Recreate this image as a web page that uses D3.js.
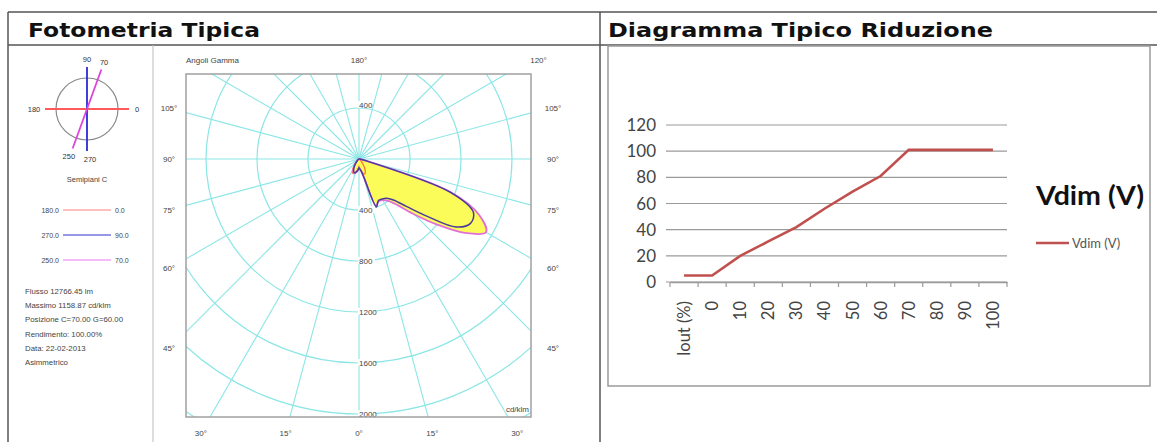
<!DOCTYPE html>
<html>
<head>
<meta charset="utf-8">
<script src="https://cdn.jsdelivr.net/npm/d3@7"></script>
<style>
  body { margin: 0; background: #fff; }
  svg { display: block; }
</style>
</head>
<body>
<div id="chart"></div>
<script>
// photometric data (cd/klm), gamma angles in degrees, 0 = straight down
const gammaAngles = [0, 5, 10, 15, 20, 25, 30, 35, 40, 45, 50, 55, 60, 65, 70, 75, 80, 85, 90]
const c0 = [60, 75, 95, 115, 125, 118, 95, 65, 40, 25, 15, 10, 7, 5, 4, 4, 3, 2, 2]
const c180 = [60, 75, 95, 112, 122, 120, 100, 70, 45, 28, 16, 10, 7, 5, 4, 4, 3, 2, 2]
const c90 = [70, 80, 95, 150, 400, 360, 362, 375, 420, 525, 700, 930, 1010, 990, 760, 80, 20, 8, 4]
const c270 = [70, 85, 100, 110, 112, 100, 80, 55, 35, 22, 14, 9, 6, 5, 4, 3, 3, 2, 2]
const c70 = [70, 80, 95, 150, 390, 365, 372, 400, 475, 615, 800, 1010, 1150, 1040, 770, 80, 20, 8, 4]
const c250 = [70, 85, 100, 115, 118, 108, 88, 62, 40, 25, 15, 10, 7, 5, 4, 3, 3, 2, 2]

const intensityRings = [400, 800, 1200, 1600, 2000, 2400]
const ringLabelsBelow = [400, 800, 1200, 1600, 2000]
const ringLabelsAbove = [400]
const sideGammaLabels = [105, 90, 75, 60, 45]
const bottomGammaLabels = [-30, -15, 0, 15, 30]
const topGammaLabels = [180, 120]

const planeNames = ['180 - 0', '270 - 90', '250 - 70']
const planeLegendLeft = ['180.0', '270.0', '250.0']
const planeLegendRight = ['0.0', '90.0', '70.0']
const planeAngles = [0, 90, 70]
const infoLines = [
  'Flusso 12766.45  lm',
  'Massimo 1158.87  cd/klm',
  'Posizione C=70.00 G=60.00',
  'Rendimento: 100.00%',
  'Data: 22-02-2013',
  'Asimmetrico'
]

// dimming chart
const categories = ['Iout (%)', '0', '10', '20', '30', '40', '50', '60', '70', '80', '90', '100']
const vdim = [5, 5, 20, 31, 42, 56, 69, 81, 101, 101, 101, 101]
const yTicks = [0, 20, 40, 60, 80, 100, 120]

let width = 1157
let height = 442

let svg = d3
  .select('#chart')
  .append('svg')
  .attr('width', width)
  .attr('height', height)

let small = 'Liberation Sans, Arial, sans-serif'

// table lines and headers
let border = '#555'
svg.append('line').attr('x1', 8).attr('x2', width).attr('y1', 12).attr('y2', 12)
  .attr('stroke', border).attr('stroke-width', 1.5)
svg.append('line').attr('x1', 8).attr('x2', width).attr('y1', 45).attr('y2', 45)
  .attr('stroke', border).attr('stroke-width', 1.5)
svg.append('line').attr('x1', 8).attr('x2', 8).attr('y1', 12).attr('y2', height)
  .attr('stroke', border).attr('stroke-width', 1.5)
svg.append('line').attr('x1', 600).attr('x2', 600).attr('y1', 12).attr('y2', height)
  .attr('stroke', border).attr('stroke-width', 1.5)
svg.append('line').attr('x1', 153).attr('x2', 153).attr('y1', 45).attr('y2', height)
  .attr('stroke', '#bbb').attr('stroke-width', 1)

svg.append('text').attr('x', 28).attr('y', 37)
  .attr('font-family', 'DejaVu Sans, Verdana, sans-serif').attr('font-weight', 'bold')
  .attr('font-size', 20).attr('fill', '#111')
  .attr('textLength', 232).attr('lengthAdjust', 'spacingAndGlyphs')
  .text('Fotometria Tipica')
svg.append('text').attr('x', 608).attr('y', 37)
  .attr('font-family', 'DejaVu Sans, Verdana, sans-serif').attr('font-weight', 'bold')
  .attr('font-size', 20).attr('fill', '#111')
  .attr('textLength', 385).attr('lengthAdjust', 'spacingAndGlyphs')
  .text('Diagramma Tipico Riduzione')

// ---------- legend column ----------
let planeColors = ['#ff5a5a', '#2a2ad8', '#dd44dd']
let legendColors = ['#ff8080', '#3030d0', '#ee77ee']
let cc = { x: 87, y: 109 }
let leg = svg.append('g')
leg.append('circle').attr('cx', cc.x).attr('cy', cc.y).attr('r', 31)
  .attr('fill', 'none').attr('stroke', '#888').attr('stroke-width', 1.2)

planeAngles.forEach((a, i) => {
  let rad = a * Math.PI / 180
  let dx = Math.cos(rad), dy = -Math.sin(rad)
  leg.append('line')
    .attr('x1', cc.x - dx * 42).attr('y1', cc.y - dy * 42)
    .attr('x2', cc.x + dx * 42).attr('y2', cc.y + dy * 42)
    .attr('stroke', planeColors[i]).attr('stroke-width', 1.8)
  let names = planeNames[i].split(' - ')
  leg.append('text')
    .attr('x', cc.x + dx * 50).attr('y', cc.y + dy * 50 + 3)
    .attr('text-anchor', 'middle').attr('font-family', small).attr('font-size', 7.5)
    .attr('fill', '#333').text(names[1])
  leg.append('text')
    .attr('x', cc.x - dx * 53 + (a === 90 ? 3 : 0)).attr('y', cc.y - dy * 50 + 3)
    .attr('text-anchor', 'middle').attr('font-family', small).attr('font-size', 7.5)
    .attr('fill', '#333').text(names[0])
})
leg.append('text').attr('x', cc.x).attr('y', 182).attr('text-anchor', 'middle')
  .attr('font-family', small).attr('font-size', 7.5).attr('fill', '#444').text('Semipiani C')

planeLegendLeft.forEach((t, i) => {
  let y = 210 + i * 25
  leg.append('text').attr('x', 59).attr('y', y + 2.5).attr('text-anchor', 'end')
    .attr('font-family', small).attr('font-size', 7).attr('fill', '#444').text(t)
  leg.append('line').attr('x1', 63).attr('x2', 111).attr('y1', y).attr('y2', y)
    .attr('stroke', legendColors[i]).attr('stroke-width', 1.2)
  leg.append('text').attr('x', 115).attr('y', y + 2.5)
    .attr('font-family', small).attr('font-size', 7).attr('fill', '#444').text(planeLegendRight[i])
})

leg.selectAll('.info')
  .data(infoLines)
  .enter()
  .append('text')
  .attr('class', 'info')
  .attr('x', 25)
  .attr('y', (d, i) => 294 + i * 14.2)
  .attr('font-family', small)
  .attr('font-size', 7.8)
  .attr('fill', '#444')
  .text(d => d)

// ---------- polar diagram ----------
let frame = { x: 186, y: 74, w: 345, h: 343 }
let cx = 359
let cy = 159
let rScale = d3.scaleLinear().domain([0, 2000]).range([0, 255])

svg.append('clipPath').attr('id', 'frame-clip')
  .append('rect').attr('x', frame.x).attr('y', frame.y).attr('width', frame.w).attr('height', frame.h)

let polar = svg.append('g').attr('clip-path', 'url(#frame-clip)')
let grid = polar.append('g').attr('transform', `translate(${cx},${cy})`)
let gridColor = '#8ce6e6'

grid.selectAll('.ring')
  .data(intensityRings)
  .enter()
  .append('circle')
  .attr('class', 'ring')
  .attr('r', d => rScale(d))
  .attr('fill', 'none')
  .attr('stroke', gridColor)
  .attr('stroke-width', 1.2)

grid.selectAll('.spoke')
  .data(d3.range(0, 360, 15))
  .enter()
  .append('line')
  .attr('class', 'spoke')
  .attr('x2', d => Math.sin(d * Math.PI / 180) * 400)
  .attr('y2', d => Math.cos(d * Math.PI / 180) * 400)
  .attr('stroke', gridColor)
  .attr('stroke-width', 1.1)

// build closed curve from both half planes
function halfPlanes(right, left) {
  let pts = gammaAngles.map((g, i) => ({ g: g, side: 1, v: right[i] }))
  let back = gammaAngles.map((g, i) => ({ g: g, side: -1, v: left[i] })).reverse()
  return pts.concat(back)
}

let radial = d3.lineRadial()
  .angle(d => Math.PI - d.side * d.g * Math.PI / 180)
  .radius(d => rScale(d.v))
  .curve(d3.curveCatmullRomClosed.alpha(0.5))

let curves = polar.append('g').attr('transform', `translate(${cx},${cy})`)

curves.append('path')
  .attr('d', radial(halfPlanes(c70, c250)))
  .attr('fill', '#fbfb5a')
  .attr('stroke', 'none')

curves.append('path')
  .attr('d', radial(halfPlanes(c0, c180)))
  .attr('fill', 'none')
  .attr('stroke', '#ff7a3a')
  .attr('stroke-width', 1.4)

curves.append('path')
  .attr('d', radial(halfPlanes(c70, c250)))
  .attr('fill', 'none')
  .attr('stroke', '#e070d8')
  .attr('stroke-width', 1.8)

curves.append('path')
  .attr('d', radial(halfPlanes(c90, c270)))
  .attr('fill', 'none')
  .attr('stroke', '#4a3a9a')
  .attr('stroke-width', 1.5)

// ring labels
let ringLab = svg.append('g').attr('font-family', small).attr('font-size', 8).attr('fill', '#444')
ringLabelsBelow.forEach(v => {
  let y = Math.min(cy + rScale(v), frame.y + frame.h - 2)
  ringLab.append('rect').attr('x', cx - 1).attr('y', y - 4).attr('width', 17).attr('height', 7).attr('fill', '#fff')
  ringLab.append('text').attr('x', cx).attr('y', y + 3).text(v)
})
ringLabelsAbove.forEach(v => {
  let y = cy - rScale(v) - 3
  ringLab.append('rect').attr('x', cx - 1).attr('y', y - 4).attr('width', 14).attr('height', 7).attr('fill', '#fff')
  ringLab.append('text').attr('x', cx).attr('y', y + 3).text(v)
})

svg.append('rect')
  .attr('x', frame.x).attr('y', frame.y).attr('width', frame.w).attr('height', frame.h)
  .attr('fill', 'none').attr('stroke', '#a0a0a0').attr('stroke-width', 1.5)

// gamma labels placed where each ray meets an outer box
let outer = { left: cx - 189, right: cx + 189, top: 60, bottom: 433 }
let gLab = svg.append('g').attr('font-family', small).attr('font-size', 8).attr('fill', '#444')
  .attr('text-anchor', 'middle')
sideGammaLabels.forEach(g => {
  let rad = g * Math.PI / 180
  let dy = Math.cos(rad) / Math.abs(Math.sin(rad)) * 189
  gLab.append('text').attr('x', outer.left - 1).attr('y', cy + dy + 3).text(g + '°')
  gLab.append('text').attr('x', outer.right + 5).attr('y', cy + dy + 3).text(g + '°')
})
bottomGammaLabels.forEach(g => {
  let rad = g * Math.PI / 180
  let dx = Math.tan(rad) * (outer.bottom - cy)
  gLab.append('text').attr('x', cx + dx).attr('y', outer.bottom + 3).text(Math.abs(g) + '°')
})
topGammaLabels.forEach(g => {
  let rad = g * Math.PI / 180
  let dx = g === 180 ? 0 : Math.sin(rad) * (cy - outer.top) / Math.abs(Math.cos(rad)) + 8
  gLab.append('text').attr('x', cx + dx).attr('y', outer.top + 3).text(g + '°')
})
gLab.append('text').attr('x', frame.x).attr('y', outer.top + 3).attr('text-anchor', 'start')
  .text('Angoli Gamma')
gLab.append('text').attr('x', frame.x + frame.w - 2).attr('y', frame.y + frame.h - 5)
  .attr('text-anchor', 'end').text('cd/klm')

// ---------- dimming chart ----------
svg.append('rect')
  .attr('x', 608).attr('y', 46).attr('width', 542).attr('height', 340)
  .attr('fill', 'none').attr('stroke', '#9a9a9a').attr('stroke-width', 1.5)

let xScale = d3.scaleBand().domain(categories).range([670, 1007])
let yScale = d3.scaleLinear().domain([0, 120]).range([282, 125])
let chartFont = 'Lato, Open Sans, sans-serif'

let dim = svg.append('g')
dim.selectAll('.grid')
  .data(yTicks)
  .enter()
  .append('line')
  .attr('class', 'grid')
  .attr('x1', 666)
  .attr('x2', 1007)
  .attr('y1', d => yScale(d))
  .attr('y2', d => yScale(d))
  .attr('stroke', '#9a9a9a')
  .attr('stroke-width', 1.2)

dim.selectAll('.ylab')
  .data(yTicks)
  .enter()
  .append('text')
  .attr('class', 'ylab')
  .attr('x', 656)
  .attr('y', d => yScale(d) + 6)
  .attr('text-anchor', 'end')
  .attr('font-family', chartFont)
  .attr('font-size', 17)
  .attr('fill', '#444')
  .text(d => d)

let xAxis = dim.append('g')
  .attr('transform', `translate(0,${yScale(0)})`)
  .call(d3.axisBottom(xScale).tickSize(0).tickFormat(''))
xAxis.select('.domain').attr('stroke', '#9a9a9a').attr('stroke-width', 1.5)

dim.selectAll('.xtick')
  .data(categories.concat(['end']))
  .enter()
  .append('line')
  .attr('class', 'xtick')
  .attr('x1', (d, i) => 670 + i * xScale.step())
  .attr('x2', (d, i) => 670 + i * xScale.step())
  .attr('y1', yScale(0))
  .attr('y2', yScale(0) + 5)
  .attr('stroke', '#9a9a9a')
  .attr('stroke-width', 1.2)

dim.selectAll('.xlab')
  .data(categories)
  .enter()
  .append('text')
  .attr('class', 'xlab')
  .attr('transform', d => `translate(${xScale(d) + xScale.bandwidth() / 2 + 6},${yScale(0) + 19}) rotate(-90)`)
  .attr('text-anchor', 'end')
  .attr('font-family', chartFont)
  .attr('font-size', 16.5)
  .attr('fill', '#444')
  .text(d => d)

let line = d3.line()
  .x((d, i) => xScale(categories[i]) + xScale.bandwidth() / 2)
  .y(d => yScale(d))

dim.append('path')
  .datum(vdim)
  .attr('d', line)
  .attr('fill', 'none')
  .attr('stroke', '#c0504d')
  .attr('stroke-width', 2.6)

dim.append('text').attr('x', 1036).attr('y', 205)
  .attr('font-family', chartFont).attr('font-weight', 'bold')
  .attr('font-size', 27).attr('fill', '#111')
  .attr('textLength', 108).attr('lengthAdjust', 'spacingAndGlyphs')
  .text('Vdim (V)')
dim.append('line').attr('x1', 1036).attr('x2', 1069).attr('y1', 243).attr('y2', 243)
  .attr('stroke', '#c0504d').attr('stroke-width', 2.4)
dim.append('text').attr('x', 1072).attr('y', 247.5)
  .attr('font-family', chartFont).attr('font-size', 13).attr('fill', '#555').text('Vdim (V)')
</script>
</body>
</html>
